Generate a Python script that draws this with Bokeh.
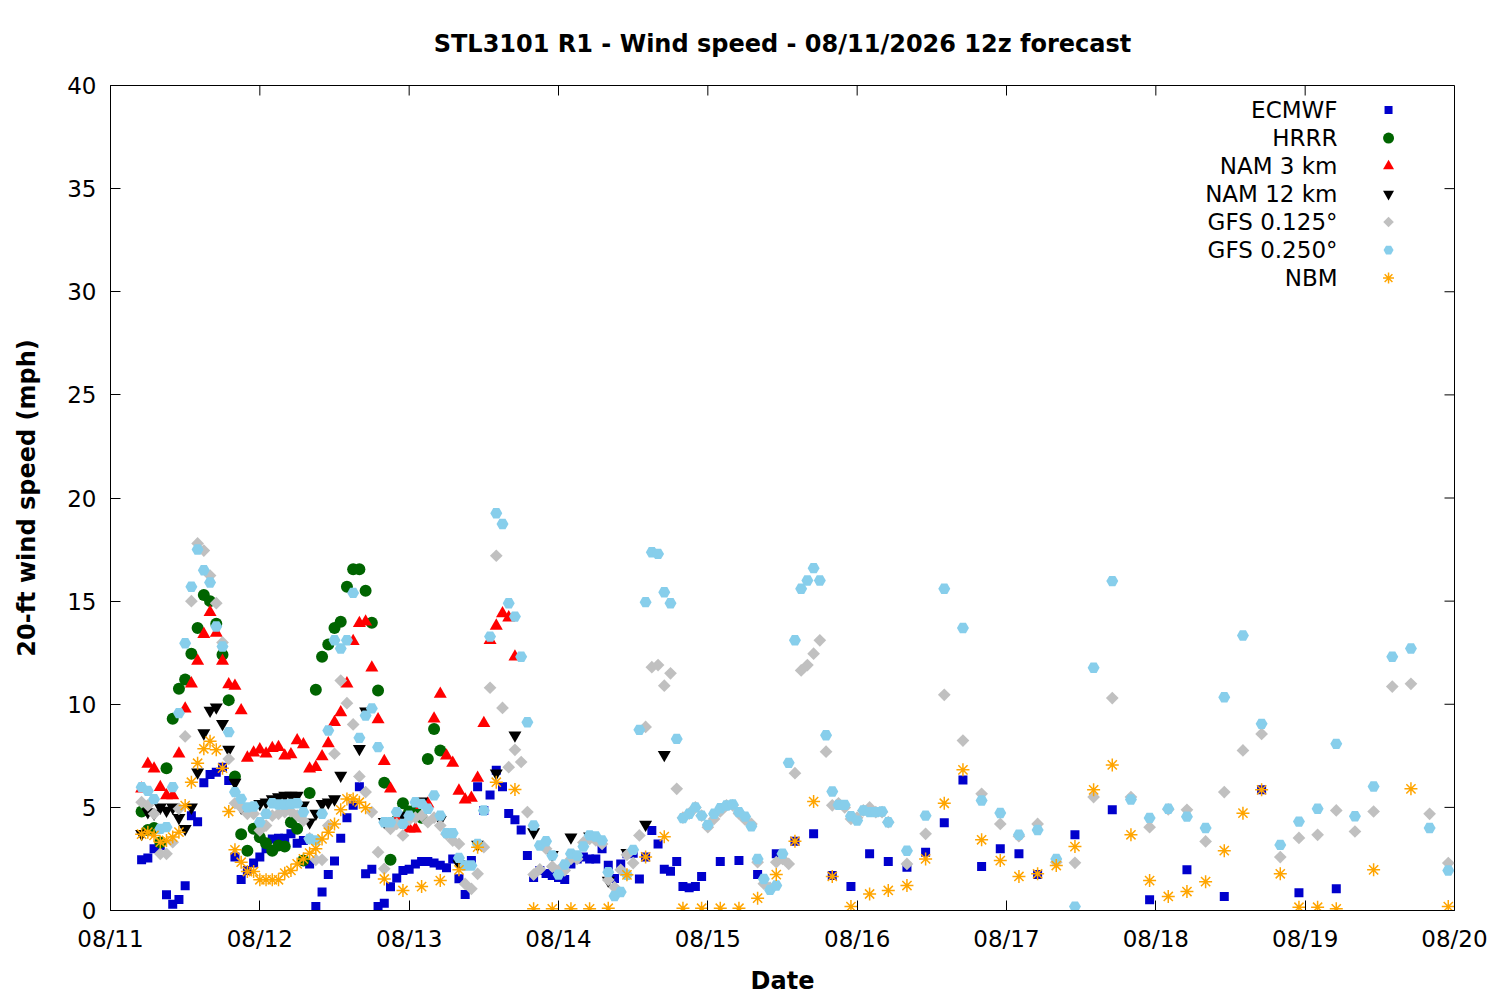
import math
from bokeh.plotting import figure
from bokeh.models import Range1d, FixedTicker
from bokeh.embed import file_html
from bokeh.resources import INLINE
from bokeh.core.properties import value

# ---------------- data (hours after 08/11 00:00, wind speed in mph) ----------------
date_labels = ["08/11", "08/12", "08/13", "08/14", "08/15", "08/16", "08/17", "08/18", "08/19", "08/20"]
tick_hours = [0, 24, 48, 72, 96, 120, 144, 168, 192, 216]
y_ticks = [0, 5, 10, 15, 20, 25, 30, 35, 40]

series_names = ["ECMWF", "HRRR", "NAM 3 km", "NAM 12 km", "GFS 0.125°", "GFS 0.250°", "NBM"]

ecmwf_hours = list(range(5, 96)) + list(range(98, 150, 3)) + list(range(155, 198, 6))
ecmwf_vals = [
    2.46, 2.55, 3.0, 3.15, 0.76, 0.3, 0.53, 1.2, 4.6, 4.3,
    6.2, 6.6, 6.7, 6.95, 6.3, 2.6, 1.5, 1.94, 2.3, 2.6,
    3.0, 3.47, 3.5, 3.5, 3.72, 3.26, 3.4, 2.26, 0.2, 0.9,
    1.74, 2.4, 3.5, 4.5, 5.1, 6.0, 1.78, 2.0, 0.2, 0.35,
    1.15, 1.58, 1.94, 2.0, 2.26, 2.37, 2.37, 2.3, 2.2, 2.07,
    2.5, 1.54, 0.78, 2.42, 6.0, 4.85, 5.6, 6.8, 6.0, 4.7,
    4.4, 3.9, 2.67, 1.6, 1.94, 1.8, 1.7, 1.6, 1.5, 2.26,
    2.5, 2.6, 2.5, 2.5, 3.0, 2.2, 1.55, 2.26, 2.75, 2.78,
    1.53, 2.6, 3.88, 3.23, 2.0, 1.9, 2.37, 1.16, 1.1, 1.16,
    1.65,
    2.37, 2.42, 1.74, 2.75, 3.36, 3.72, 1.7, 1.16, 2.75, 2.37,
    2.1, 2.82, 4.25, 6.33, 2.13, 3.0, 2.75, 1.74,
    3.67, 4.88, 0.52, 1.97, 0.68, 5.85, 0.86, 1.05,
]

hrrr_hours = list(range(5, 54))
hrrr_vals = [
    4.8, 3.9, 4.0, 3.3, 6.9, 9.3, 10.75, 11.2, 12.45, 13.7,
    15.3, 15.0, 13.9, 12.4, 10.2, 6.5, 3.7, 2.9, 3.96, 3.55,
    3.26, 2.9, 3.15, 3.1, 4.28, 3.96, 2.42, 5.7, 10.7, 12.3,
    12.9, 13.7, 14.0, 15.7, 16.55, 16.55, 15.5, 13.95, 10.67, 6.2,
    2.46, 4.36, 5.2, 4.8, 4.9, 4.5, 7.35, 8.8, 7.76,
]

nam3_hours = list(range(5, 66))
nam3_vals = [
    5.9, 7.1, 6.87, 5.98, 5.58, 5.58, 7.6, 9.78, 11.0, 12.1,
    13.4, 14.46, 13.45, 12.1, 10.96, 10.88, 9.7, 7.4, 7.65, 7.8,
    7.6, 7.87, 7.92, 7.5, 7.56, 8.24, 8.05, 6.87, 6.95, 7.47,
    8.1, 9.13, 9.6, 11.0, 13.06, 13.93, 14.0, 11.77, 9.26, 7.24,
    5.9, 4.44, 4.2, 3.96, 3.96, 5.1, 5.17, 9.3, 10.5, 7.5,
    7.15, 5.8, 5.37, 5.46, 6.43, 9.08, 13.1, 13.8, 14.4, 14.2,
    12.3,
]

nam12_hours = list(range(5, 38)) + [40, 41] + list(range(44, 90, 3))
nam12_vals = [
    3.72, 4.77, 4.7, 5.0, 4.85, 5.0, 4.5, 3.96, 5.0, 6.7,
    8.6, 9.7, 9.86, 9.05, 7.8, 6.2, 5.0, 4.8, 5.0, 5.17,
    5.25, 5.4, 5.5, 5.58, 5.58, 5.58, 5.1, 4.28, 4.7, 5.17,
    5.25, 5.4, 6.55,
    7.84, 9.66,
    4.3, 4.6, 5.3, 4.4, 2.26, 3.2, 6.66, 8.5, 3.8, 2.7,
    3.55, 3.6, 1.45, 2.8, 4.17, 7.55,
]

gfs125_hours = list(range(5, 126)) + list(range(128, 216, 3))
gfs125_vals = [
    5.25, 5.1, 4.69, 2.75, 2.75, 3.31, 4.93, 8.44, 15.0, 17.8,
    17.45, 16.24, 14.9, 13.0, 7.35, 5.2, 5.0, 4.69, 4.69, 3.88,
    4.12, 4.6, 4.69, 4.77, 4.8, 4.6, 4.36, 3.5, 2.46, 2.46,
    4.12, 7.6, 11.15, 10.05, 9.02, 6.5, 5.74, 4.77, 2.83, 2.02,
    3.96, 4.2, 3.64, 4.4, 4.5, 4.6, 4.28, 4.5, 4.12, 3.7,
    3.39, 3.23, 1.29, 1.05, 1.78, 3.07, 10.8, 17.2, 9.82, 6.95,
    7.79, 7.2, 4.77, 1.74, 2.0, 3.0, 2.13, 1.94, 1.94, 2.5,
    2.5, 3.3, 3.47, 3.4, 3.23, 1.48, 1.13, 1.97, 2.7, 2.3,
    3.64, 8.9, 11.8, 11.9, 10.9, 11.5, 5.9, 4.5, 4.7, 5.0,
    4.6, 4.04, 4.44, 4.8, 5.1, 5.1, 4.7, 4.4, 4.2, 2.34,
    1.3, 1.1, 2.34, 2.5, 2.26, 6.66, 11.64, 11.9, 12.45, 13.1,
    7.7, 5.1, 5.2, 5.0, 4.44, 4.5, 4.85, 5.0, 4.77, 4.77,
    4.28,
    2.26, 3.72, 10.46, 8.24, 5.66, 4.2, 3.6, 4.2, 2.34, 2.31,
    5.5, 10.3, 5.5, 4.04, 4.9, 4.88, 3.35, 5.74, 7.76, 8.56,
    2.59, 3.52, 3.67, 4.85, 3.83, 4.8, 10.86, 10.99, 4.69, 2.3,
]

gfs250_hours = list(range(5, 126)) + list(range(128, 216, 3))
gfs250_vals = [
    5.98, 5.8, 5.4, 3.96, 4.04, 5.98, 9.57, 12.96, 15.7, 17.5,
    16.5, 15.9, 13.77, 12.8, 8.65, 5.74, 5.41, 5.0, 5.04, 4.28,
    4.69, 5.2, 5.14, 5.14, 5.17, 5.2, 4.77, 3.47, 3.4, 4.69,
    8.73, 13.1, 12.7, 13.1, 15.4, 8.37, 9.45, 9.8, 7.92, 4.28,
    4.28, 4.77, 4.2, 4.6, 5.25, 5.17, 4.93, 5.58, 4.6, 3.75,
    3.75, 2.55, 2.18, 2.18, 3.23, 4.85, 13.28, 19.26, 18.74, 14.9,
    14.25, 12.3, 9.13, 4.12, 3.15, 3.36, 2.67, 1.74, 2.23, 2.75,
    2.67, 3.1, 3.64, 3.59, 3.4, 1.86, 0.7, 0.9, 1.73, 2.94,
    8.76, 14.95, 17.37, 17.29, 15.43, 14.9, 8.32, 4.48, 4.69, 5.0,
    4.6, 4.15, 4.69, 4.96, 5.09, 5.14, 4.77, 4.55, 4.08, 2.5,
    1.53, 1.0, 1.21, 2.75, 7.16, 13.1, 15.6, 16.0, 16.6, 16.0,
    8.5, 5.77, 5.12, 5.12, 4.57, 4.36, 4.85, 4.77, 4.77, 4.8,
    4.28,
    2.9, 4.6, 15.6, 13.7, 5.33, 4.73, 3.67, 3.9, 2.5, 0.19,
    11.77, 15.97, 5.38, 4.49, 4.93, 4.55, 4.0, 10.34, 13.33, 9.05,
    3.18, 4.31, 4.93, 8.08, 4.57, 6.01, 12.3, 12.7, 4.0, 1.94,
]

nbm_hours = list(range(5, 42)) + list(range(44, 198, 3)) + [203, 209, 215]
nbm_vals = [
    3.7, 3.8, 3.64, 3.31, 3.4, 3.56, 3.8, 5.09, 6.22, 7.14,
    7.84, 8.21, 7.79, 6.9, 4.8, 2.94, 2.34, 1.89, 1.89, 1.49,
    1.49, 1.49, 1.49, 1.81, 1.94, 2.26, 2.5, 2.78, 3.0, 3.47,
    3.8, 4.2, 4.88, 5.41, 5.41, 5.25, 4.98,
    1.53, 0.97, 1.16, 1.45, 1.97, 3.07, 6.22, 5.87, 0.08, 0.08,
    0.08, 0.08, 0.11, 1.73, 2.6, 3.58, 0.11, 0.11, 0.11, 0.11,
    0.6, 1.74, 3.36, 5.28, 1.65, 0.19, 0.8, 0.97, 1.21, 2.5,
    5.2, 6.82, 3.43, 2.42, 1.65, 1.78, 2.18, 3.1, 5.85, 7.06,
    3.67, 1.45, 0.68, 0.92, 1.4, 2.9, 4.72, 5.85, 1.78, 0.16,
    0.16, 0.08,
    1.97, 5.9, 0.19,
]

# ---------------- styling ----------------
FONT = "DejaVu Sans"
FRAME_W, FRAME_H = 1344, 825
X_MIN, X_MAX, Y_MIN, Y_MAX = 0, 216, 0, 40
styles = [
    dict(marker="square", size=9, fill_color="#0000CC", line_color=None),
    dict(marker="circle", size=12, fill_color="#006400", line_color=None),
    dict(marker="triangle", size=13, fill_color="#FF0000", line_color=None),
    dict(marker="inverted_triangle", size=13, fill_color="#000000", line_color=None),
    dict(marker="square", size=9, angle=math.pi / 4, fill_color="#C0C0C0", line_color=None),
    dict(marker="hex", size=12, fill_color="#87CEEB", line_color=None),
    dict(marker="asterisk", size=13, line_color="#FFA500", line_width=1.5),
]
all_hours = [ecmwf_hours, hrrr_hours, nam3_hours, nam12_hours, gfs125_hours, gfs250_hours, nbm_hours]
all_vals = [ecmwf_vals, hrrr_vals, nam3_vals, nam12_vals, gfs125_vals, gfs250_vals, nbm_vals]

p = figure(frame_width=FRAME_W, frame_height=FRAME_H, output_backend="svg", toolbar_location=None,
           x_range=Range1d(X_MIN, X_MAX), y_range=Range1d(Y_MIN, Y_MAX),
           min_border_left=110, min_border_right=36, min_border_top=85, min_border_bottom=80,
           title="STL3101 R1 - Wind speed - 08/11/2026 12z forecast")
p.background_fill_color = "white"
p.border_fill_color = "white"
p.xgrid.grid_line_color = None
p.ygrid.grid_line_color = None
p.outline_line_color = "black"
p.outline_line_width = 1
p.outline_line_alpha = 1

p.title.text_font = FONT
p.title.text_font_size = "24px"
p.title.text_font_style = "bold"
p.title.text_color = "black"
p.title.align = "center"
p.title.standoff = 55

def style_axis(ax, ticks):
    ax.ticker = FixedTicker(ticks=ticks)
    ax.major_tick_in = 10
    ax.major_tick_out = 0
    ax.major_tick_line_color = "black"
    ax.minor_tick_line_color = None
    ax.axis_line_color = "black"
    ax.major_label_text_font = FONT
    ax.major_label_text_color = "black"
    ax.major_label_text_font_size = "23px"
    ax.axis_label_text_font = FONT
    ax.axis_label_text_font_size = "24px"
    ax.axis_label_text_font_style = "bold"
    ax.axis_label_text_color = "black"

xa = p.xaxis[0]
style_axis(xa, tick_hours)
xa.major_label_overrides = {h: lab for h, lab in zip(tick_hours, date_labels)}
xa.major_label_standoff = 15
xa.axis_label = "Date"
xa.axis_label_standoff = 12

ya = p.yaxis[0]
style_axis(ya, y_ticks)
ya.major_label_standoff = 14
ya.axis_label = "20-ft wind speed (mph)"
ya.axis_label_standoff = 23

# mirrored inward ticks on the top and right borders (gnuplot style)
tick_len = 10
dy = tick_len * (Y_MAX - Y_MIN) / FRAME_H
dx = tick_len * (X_MAX - X_MIN) / FRAME_W
p.segment(x0=tick_hours, y0=[Y_MAX] * len(tick_hours), x1=tick_hours, y1=[Y_MAX - dy] * len(tick_hours),
          line_color="black", line_width=1)
p.segment(x0=[X_MAX] * len(y_ticks), y0=y_ticks, x1=[X_MAX - dx] * len(y_ticks), y1=y_ticks,
          line_color="black", line_width=1)

for hrs, vals, st in zip(all_hours, all_vals, styles):
    p.scatter(x=hrs, y=vals, **st)

# ---------------- legend (top right, label then symbol, like gnuplot) ----------------
leg_text_x = 197.2
leg_mark_x = 205.4
leg_y0 = 38.81
leg_step = 1.3576
leg_ys = [leg_y0 - i * leg_step for i in range(len(series_names))]
p.text(x=[leg_text_x] * len(series_names), y=leg_ys, text=series_names,
       text_align="right", text_baseline="middle",
       text_font=value(FONT), text_font_size="23px", text_color="black")
legend_sizes = [8, 11, 11, 11, 7.5, 10, 11]
for yy, st, sz in zip(leg_ys, styles, legend_sizes):
    st2 = dict(st)
    st2["size"] = sz
    p.scatter(x=[leg_mark_x], y=[yy], **st2)

open("out.html", "w").write(file_html(p, INLINE))
